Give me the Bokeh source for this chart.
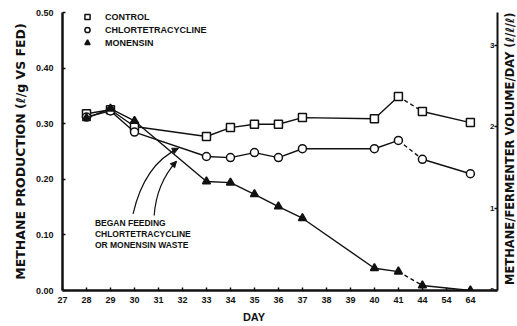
import math
import numpy as np
from bokeh.plotting import figure
from bokeh.layouts import row
from bokeh.models import (Range1d, LinearAxis, FixedTicker, Legend, LegendItem,
                          Label, Arrow, NormalHead)
from bokeh.core.properties import value
from bokeh.embed import file_html
from bokeh.resources import INLINE

# ---------------- data ----------------
day_ticks = ["27", "28", "29", "30", "31", "32", "33", "34", "35", "36", "37",
             "38", "39", "40", "41", "44", "54", "64"]
days = ["28", "29", "30", "33", "34", "35", "36", "37", "40", "41", "44", "64"]
control = [0.318, 0.325, 0.295, 0.277, 0.293, 0.299, 0.299, 0.311, 0.309, 0.349, 0.322, 0.302]
chlortetracycline = [0.312, 0.323, 0.285, 0.241, 0.239, 0.248, 0.239, 0.255, 0.255, 0.270, 0.236, 0.210]
monensin = [0.310, 0.327, 0.305, 0.196, 0.194, 0.173, 0.151, 0.130, 0.040, 0.034, 0.009, 0.000]
left_ticks = [0.0, 0.1, 0.2, 0.3, 0.4, 0.5]
left_labels = ["0.00", "0.10", "0.20", "0.30", "0.40", "0.50"]
right_ticks = [0, 1, 2, 3]
began_day = "32"
break_from = "41"
left_title = "METHANE PRODUCTION (ℓ/g VS FED)"
right_title = "METHANE/FERMENTER VOLUME/DAY (ℓ/ℓ/ℓ)"
x_title = "DAY"

FONT = "Liberation Sans"
TFONT = "DejaVu Sans"
INK = "#111111"

x = [day_ticks.index(d) for d in days]
ib = days.index(break_from)

p = figure(width=501, height=326, x_range=Range1d(0, 18.13), y_range=Range1d(0, 0.5),
           output_backend="svg", toolbar_location=None,
           min_border_left=62, min_border_right=4, min_border_top=12, min_border_bottom=36)
p.extra_y_ranges = {"vol": Range1d(0, 3.40)}
p.xgrid.visible = False
p.ygrid.visible = False
p.outline_line_color = None
p.background_fill_color = "white"

# axes
xa = p.xaxis[0]
xa.ticker = FixedTicker(ticks=list(range(len(day_ticks))))
xa.major_label_overrides = {i: t for i, t in enumerate(day_ticks)}
xa.axis_label = x_title + "\u00a0" * 17
ya = p.yaxis[0]
ya.ticker = FixedTicker(ticks=left_ticks)
ya.major_label_overrides = {t: l for t, l in zip(left_ticks, left_labels)}
ya.axis_label = left_title

ra = LinearAxis(y_range_name="vol", ticker=FixedTicker(ticks=right_ticks),
                major_label_overrides={t: "" for t in right_ticks})
p.add_layout(ra, "right")

for ax in (xa, ya, ra):
    ax.axis_line_color = INK
    ax.axis_line_width = 2.5
    ax.major_tick_in = 3
    ax.major_tick_out = 0
    ax.major_tick_line_color = INK
    ax.major_tick_line_width = 1.5
    ax.minor_tick_line_color = None
    ax.major_label_text_font = FONT
    ax.major_label_text_font_style = "bold"
    ax.major_label_text_font_size = "9px"
    ax.major_label_text_color = INK
    ax.axis_label_text_font = TFONT
    ax.axis_label_text_font_style = "bold"
    ax.axis_label_text_font_size = "11px"
    ax.axis_label_text_color = INK
ya.axis_label_text_font_size = "12.5px"
xa.axis_label_text_font = FONT
xa.major_label_standoff = 6
xa.axis_label_standoff = 5
ya.major_label_standoff = 9
ya.axis_label_standoff = 5
ra.major_label_standoff = 0
ra.axis_line_width = 2

xr = p.x_range
# right tick labels (drawn inside, next to the axis line)
p.text(x=[xr.end] * len(right_ticks), y=right_ticks, text=[str(t) for t in right_ticks],
       y_range_name="vol", x_offset=-3, text_align="right", text_baseline="middle",
       text_font=value(FONT), text_font_style="bold", text_font_size="8px", text_color=INK)

# series
series = [
    ("CONTROL", control, "square", "white"),
    ("CHLORTETRACYCLINE", chlortetracycline, "circle", "white"),
    ("MONENSIN", monensin, "triangle", INK),
]
legend_items = []
for name, vals, marker, fill in series:
    p.line(x[:ib + 1], vals[:ib + 1], line_color=INK, line_width=1.4)
    p.line(x[ib:ib + 2], vals[ib:ib + 2], line_color=INK, line_width=1.4, line_dash="4 3")
    p.line(x[ib + 1:], vals[ib + 1:], line_color=INK, line_width=1.4)
    r = p.scatter(x, vals, marker=marker, size=8, line_color=INK, line_width=1.5, fill_color=fill)
    legend_items.append(LegendItem(label=name, renderers=[r]))

legend = Legend(items=legend_items, location=(18, 241))
legend.border_line_color = None
legend.background_fill_alpha = 0
legend.label_text_font = FONT
legend.label_text_font_style = "bold"
legend.label_text_font_size = "9px"
legend.label_text_color = INK
legend.glyph_width = 14
legend.glyph_height = 13
legend.label_height = 13
legend.spacing = 0
legend.padding = 0
legend.margin = 0
legend.label_standoff = 11
p.add_layout(legend)

# annotation: began feeding
xb = day_ticks.index(began_day)
y_chl = float(np.interp(xb, x, chlortetracycline))
y_mon = float(np.interp(xb, x, monensin))
arrows = [
    ((2.94, 0.138), (3.42, 0.227), (xb - 0.17, y_chl)),
    ((3.82, 0.135), (3.92, 0.193), (xb - 0.25, y_mon)),
]
for (sx, sy), (cx, cy), (ex, ey) in arrows:
    p.quadratic(x0=[sx], y0=[sy], x1=[ex], y1=[ey], cx=[cx], cy=[cy],
                line_color=INK, line_width=1.2)
    p.add_layout(Arrow(end=NormalHead(size=6, fill_color=INK, line_color=INK),
                       x_start=cx + 0.6 * (ex - cx), y_start=cy + 0.6 * (ey - cy),
                       x_end=ex, y_end=ey, line_alpha=0))

p.add_layout(Label(x=1.35, y=0.130, text="BEGAN FEEDING\nCHLORTETRACYCLINE\nOR MONENSIN WASTE",
                   text_font=FONT, text_font_style="bold", text_font_size="8.5px",
                   text_color=INK, text_baseline="top", text_line_height=1.1))

# narrow strip on the right carrying the right-axis title (reads bottom to top)
p2 = figure(width=16, height=326, x_range=Range1d(0, 1), y_range=Range1d(0, 1),
            output_backend="svg", toolbar_location=None, x_axis_type=None, y_axis_type=None,
            min_border=0)
p2.outline_line_color = None
p2.xgrid.visible = False
p2.ygrid.visible = False
p2.add_layout(Label(x=0.55, y=0.51, angle=math.pi / 2, text=right_title,
                    text_font=TFONT, text_font_style="bold", text_font_size="11.5px",
                    text_color=INK, text_align="center", text_baseline="middle"))

layout = row(p, p2, spacing=0)
open("out.html", "w").write(file_html(layout, INLINE))
